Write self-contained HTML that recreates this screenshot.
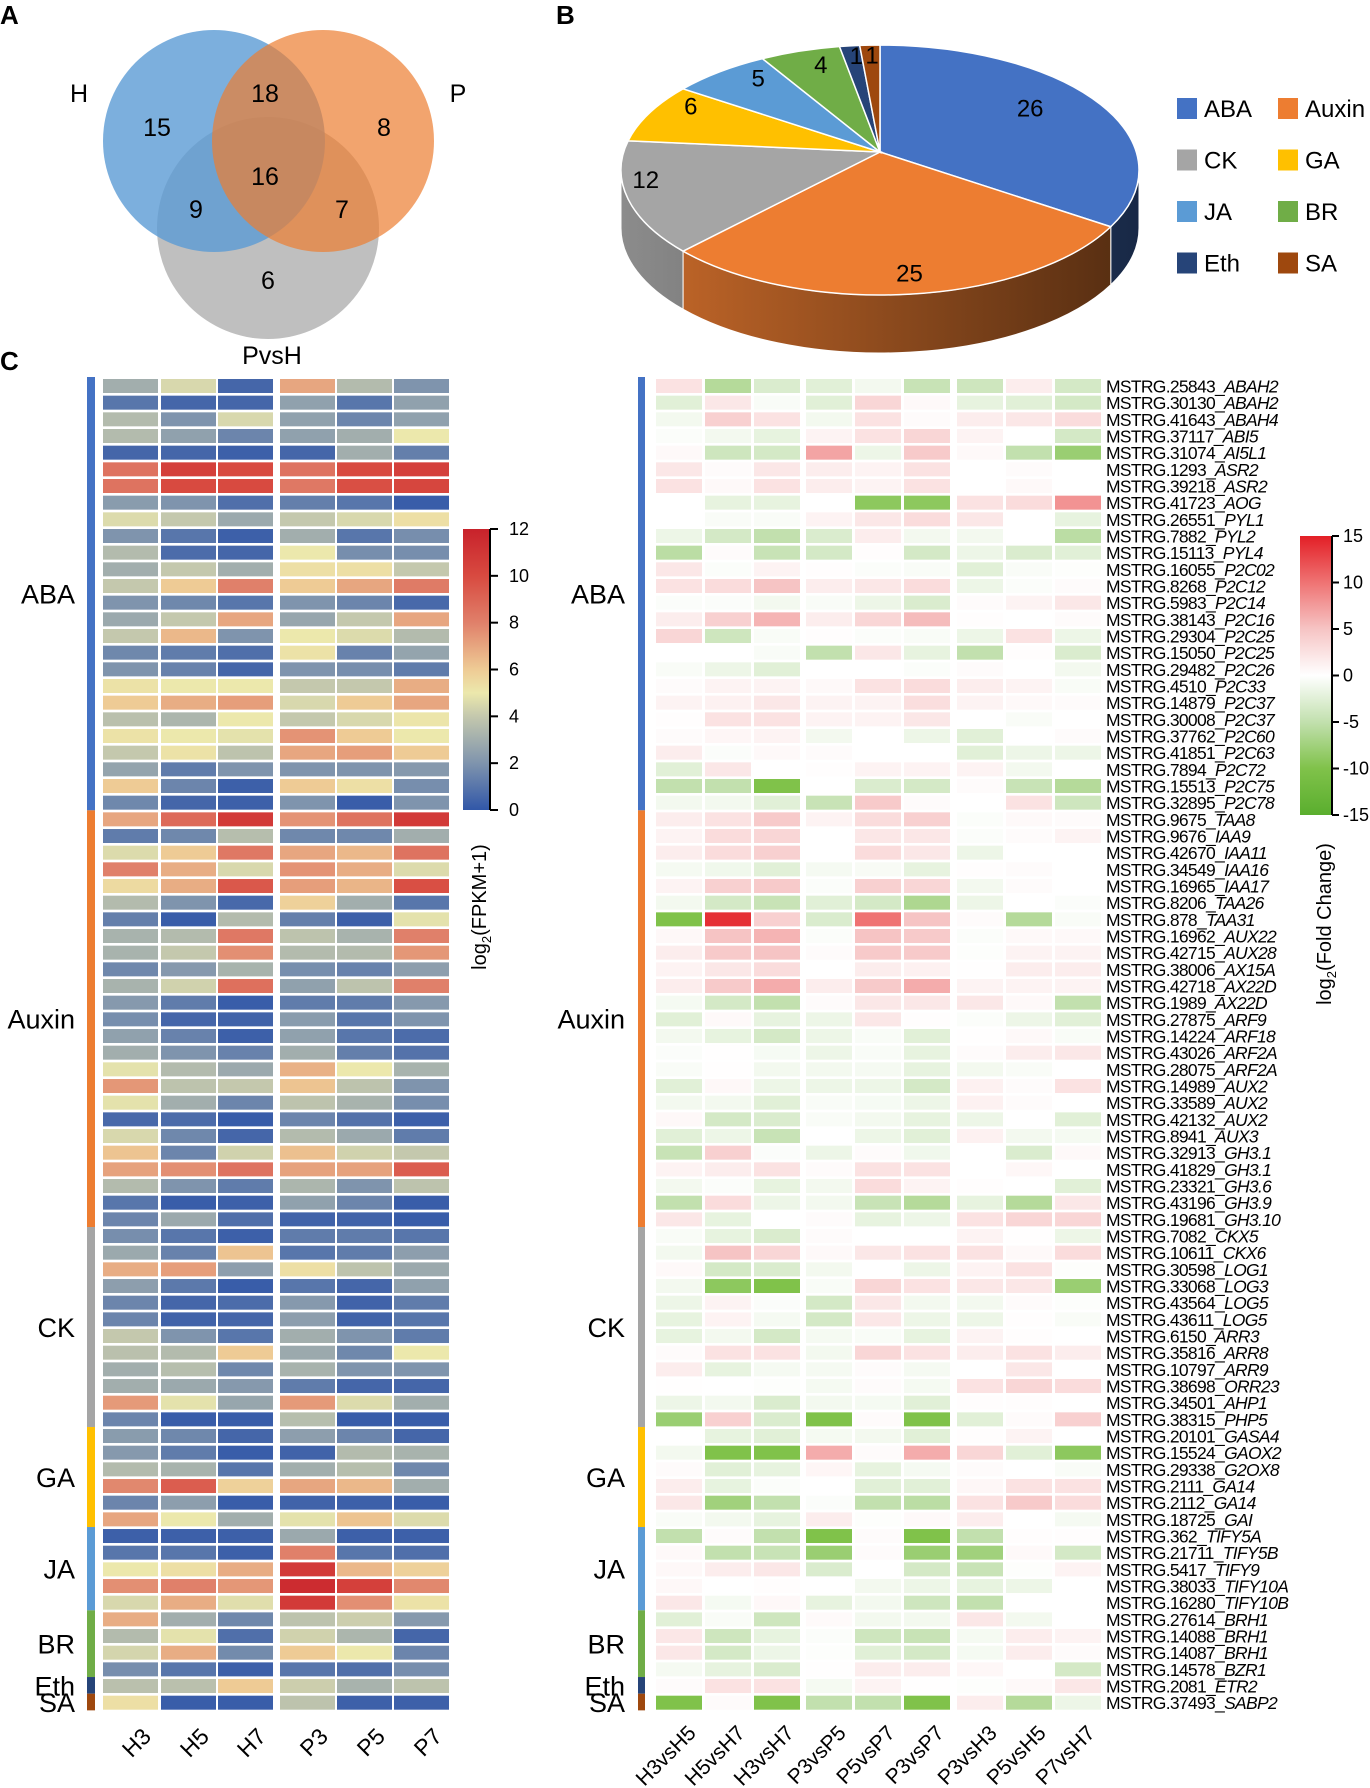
<!DOCTYPE html>
<html><head><meta charset="utf-8">
<style>
html,body{margin:0;padding:0;background:#fff;}
svg{display:block;font-family:"Liberation Sans",sans-serif;}
</style></head>
<body>
<svg id="fig" width="1370" height="1788" viewBox="0 0 1370 1788" xmlns="http://www.w3.org/2000/svg">
<defs>
<linearGradient id="gl" x1="0" y1="1" x2="0" y2="0">
<stop offset="0" stop-color="#3157a8"/><stop offset="0.1667" stop-color="#7f94ad"/><stop offset="0.3333" stop-color="#c4c8ad"/><stop offset="0.4167" stop-color="#ece8ac"/><stop offset="0.5" stop-color="#eecb95"/><stop offset="0.6667" stop-color="#e0806a"/><stop offset="0.8333" stop-color="#d84a40"/><stop offset="1" stop-color="#c8222b"/>
</linearGradient>
<linearGradient id="gr" x1="0" y1="1" x2="0" y2="0">
<stop offset="0" stop-color="#5aae2e"/><stop offset="0.1667" stop-color="#80c24a"/><stop offset="0.3333" stop-color="#c2e0ae"/><stop offset="0.5" stop-color="#ffffff"/><stop offset="0.6667" stop-color="#f6c4c4"/><stop offset="0.8333" stop-color="#ef7373"/><stop offset="1" stop-color="#e31f26"/>
</linearGradient>
</defs>

<text x="0" y="24" font-size="26" font-weight="bold">A</text>
<text x="556" y="24" font-size="26" font-weight="bold">B</text>
<text x="0" y="370" font-size="26" font-weight="bold">C</text>

<g>
<circle cx="268" cy="228" r="111" fill="#bfbfbf"/>
<circle cx="214" cy="141" r="111" fill="#5b9bd5" fill-opacity="0.8"/>
<circle cx="323" cy="141" r="111" fill="#ed7d31" fill-opacity="0.7"/>
<g font-size="25" text-anchor="middle">
<text x="79" y="102">H</text>
<text x="458" y="102">P</text>
<text x="272" y="364">PvsH</text>
<text x="157" y="136">15</text>
<text x="265" y="102">18</text>
<text x="384" y="136">8</text>
<text x="265" y="185">16</text>
<text x="196" y="218">9</text>
<text x="342" y="218">7</text>
<text x="268" y="289">6</text>
</g>
</g>

<g id="pie"></g>
<g id="legend"></g>
<g id="hl"></g>
<g id="hr"></g>

<g>
<rect x="463" y="529" width="27" height="281" fill="url(#gl)"/>
<line x1="490" y1="529" x2="490" y2="810" stroke="#000" stroke-width="2"/>
<g id="cbl"></g>
<text transform="translate(486,907) rotate(-90)" font-size="20" text-anchor="middle">log<tspan font-size="13" dy="5">2</tspan><tspan dy="-5">(FPKM+1)</tspan></text>
</g>
<g>
<rect x="1300" y="536" width="31" height="279" fill="url(#gr)"/>
<line x1="1332" y1="536" x2="1332" y2="815" stroke="#000" stroke-width="2"/>
<g id="cbr"></g>
<text transform="translate(1331,924) rotate(-90)" font-size="20" text-anchor="middle">log<tspan font-size="13" dy="5">2</tspan><tspan dy="-5">(Fold Change)</tspan></text>
</g>
</svg>

<script>
const pieCats = ["ABA","Auxin","CK","GA","JA","BR","Eth","SA"];
const pieVals = [26,25,12,6,5,4,1,1];
const groupNames = ["ABA","Auxin","CK","GA","JA","BR","Eth","SA"];
const groupCounts = [26,25,12,6,5,4,1,1];
const leftCols = ["H3","H5","H7","P3","P5","P7"];
const rightCols = ["H3vsH5","H5vsH7","H3vsH7","P3vsP5","P5vsP7","P3vsP7","P3vsH3","P5vsH5","P7vsH7"];
const fpkmTicks = [0,2,4,6,8,10,12];
const fcTicks = [-15,-10,-5,0,5,10,15];
const geneIds = ["MSTRG.25843","MSTRG.30130","MSTRG.41643","MSTRG.37117","MSTRG.31074","MSTRG.1293","MSTRG.39218","MSTRG.41723","MSTRG.26551","MSTRG.7882","MSTRG.15113","MSTRG.16055","MSTRG.8268","MSTRG.5983","MSTRG.38143","MSTRG.29304","MSTRG.15050","MSTRG.29482","MSTRG.4510","MSTRG.14879","MSTRG.30008","MSTRG.37762","MSTRG.41851","MSTRG.7894","MSTRG.15513","MSTRG.32895",
"MSTRG.9675","MSTRG.9676","MSTRG.42670","MSTRG.34549","MSTRG.16965","MSTRG.8206","MSTRG.878","MSTRG.16962","MSTRG.42715","MSTRG.38006","MSTRG.42718","MSTRG.1989","MSTRG.27875","MSTRG.14224","MSTRG.43026","MSTRG.28075","MSTRG.14989","MSTRG.33589","MSTRG.42132","MSTRG.8941","MSTRG.32913","MSTRG.41829","MSTRG.23321","MSTRG.43196","MSTRG.19681",
"MSTRG.7082","MSTRG.10611","MSTRG.30598","MSTRG.33068","MSTRG.43564","MSTRG.43611","MSTRG.6150","MSTRG.35816","MSTRG.10797","MSTRG.38698","MSTRG.34501","MSTRG.38315",
"MSTRG.20101","MSTRG.15524","MSTRG.29338","MSTRG.2111","MSTRG.2112","MSTRG.18725",
"MSTRG.362","MSTRG.21711","MSTRG.5417","MSTRG.38033","MSTRG.16280",
"MSTRG.27614","MSTRG.14088","MSTRG.14087","MSTRG.14578","MSTRG.2081","MSTRG.37493"];
const geneNames = ["ABAH2","ABAH2","ABAH4","ABI5","AI5L1","ASR2","ASR2","AOG","PYL1","PYL2","PYL4","P2C02","P2C12","P2C14","P2C16","P2C25","P2C25","P2C26","P2C33","P2C37","P2C37","P2C60","P2C63","P2C72","P2C75","P2C78",
"TAA8","IAA9","IAA11","IAA16","IAA17","TAA26","TAA31","AUX22","AUX28","AX15A","AX22D","AX22D","ARF9","ARF18","ARF2A","ARF2A","AUX2","AUX2","AUX2","AUX3","GH3.1","GH3.1","GH3.6","GH3.9","GH3.10",
"CKX5","CKX6","LOG1","LOG3","LOG5","LOG5","ARR3","ARR8","ARR9","ORR23","AHP1","PHP5",
"GASA4","GAOX2","G2OX8","GA14","GA14","GAI",
"TIFY5A","TIFY5B","TIFY9","TIFY10A","TIFY10B",
"BRH1","BRH1","BRH1","BZR1","ETR2","SABP2"];
const fpkm = [
[3,4.5,0.5,7,3.5,2],[1,0.5,0.5,2.5,1,2.5],[3.5,2,4.5,2.5,1.5,2.5],[3.5,2.5,1.5,2.5,3,5],[0.5,0.5,0.3,0.5,3,1.3],
[8.5,10.5,10,8.5,10,10.5],[8.5,10,10,8.3,9.8,10.2],[2.3,2,0.8,1.3,1,0.2],[4.6,4,2.8,4,4.5,5.3],[2,1,0.3,3,1,1.8],
[3.5,0.7,0.5,5,1.8,1.8],[3,4,3,5.3,5.3,4],[4,6,8,6,7,8.2],[2,1.6,1,2,1.5,0.6],[2.8,4,7,2.7,4,7],
[4,6.5,2,5,4.6,3.5],[1.6,1.2,0.8,5.2,1.4,2.6],[2,1.4,0.5,2,1.8,1.2],[5.2,5,5,4,4,6.8],[6,6.8,7.2,4.5,6,7],
[3.7,3.3,5,4,4.5,5.1],[5.2,5,4.8,7.5,6,5],[4,5.2,3.8,7,7.2,6],[2.6,1.2,2,2,2,2.2],[6,1.5,0.3,6,5.3,1.8],[1.6,0.5,0.3,2,0.2,2],
[7,8.8,10.8,7.5,8.5,10.8],[1.2,1.6,3.6,1.6,1.6,3],[4.6,6,8.3,7,6.5,8.5],[8,6.8,4.5,7.5,6.8,4.6],[5.5,6.8,9.5,7.2,6.6,9.8],
[3.5,2,0.6,5.8,3,1],[1.3,0.2,3.5,1.3,0.3,4.8],[3.2,3.5,8.3,3.8,3.2,8],[3.2,4,7.6,3.5,3.5,7.4],[1.6,2.2,3.2,1.8,1.4,2.4],
[3.2,4.3,8.6,2.5,3.8,8],[2.2,1.2,0.2,1.2,1.2,2.2],[1.8,0.5,0.4,2.3,1,2],[2.5,1.4,0.3,2.5,1,0.7],[3,2,1.4,3,1.3,0.9],
[4.8,3.5,2.8,6.7,5,3.2],[7.4,3.8,4,6.2,3.8,2],[4.8,3,1.5,3.8,3.2,1.8],[0.6,0.7,0.2,1.5,0.9,0.3],[4.5,1.6,0.5,3.5,2.8,1.2],
[6.2,1.5,4.3,6.3,4.3,4],[7.1,7.6,8.5,7.1,7.1,9.3],[3.5,2,1.2,3.3,2,3.8],[1,0.2,0.3,2.5,1.5,0.2],[1.5,2.8,0.8,0.4,0.4,0.2],
[1.8,1,0.3,1.2,1.2,1],[2.8,1.4,6.2,1,1.2,2.4],[6.8,7.2,2.4,5.3,3.8,2.8],[2.4,1.1,0.2,1,0.5,2.5],[1.5,0.5,0.7,2.2,0.4,1.2],
[1.5,0.4,0.5,2.4,0.4,1],[4,2,1,3,2,1.2],[3.7,3.5,6,2.8,1.6,5],[3,3.6,1.6,3.2,2,2],[3,2.8,2.2,1.2,0.5,0.5],
[7.3,4.8,2.7,7.3,4.6,3],[1.5,0.2,0.2,3.6,0.2,0.2],
[2.3,1.6,0.5,2.4,1.5,0.5],[2.2,1.2,0.2,0.4,3.5,3.2],[3.5,3.2,1,3,3.6,1.6],[7.8,9.3,5.8,7,6.5,3],[1.5,2.4,0.2,0.4,0.3,0.2],[7,5,3,4.8,6.2,4.6],
[0.3,0.3,0.3,2.8,0.3,0.3],[1,1,0.3,8,1,0.8],[5,5.3,6.8,10.8,6.5,5.8],[7.6,8,7.4,11.5,10.5,7.8],[4.5,6.8,4.7,10.8,7.6,5.2],
[6.8,3,1.6,3.8,4.2,2.2],[3.5,4.8,0.8,4.3,3.3,0.5],[4.4,6.8,1.7,6,5,1.5],[1.8,1,0.3,1,0.8,1.8],
[3.7,3.7,6,4.2,3.2,3.8],[5.3,0.2,0.2,3.8,0.3,0.3]];
const foldChange = [
[2.5,-6,-3,-2.5,-1,-4.5,-4,1.5,-3.5],[-2.5,2,-0.5,-2.5,3.5,0.5,-2,-2.5,-3.5],[-1,4,2.5,-1,2.5,0.3,1.5,2,3],
[-0.3,-1,-2,1,2.5,3.5,1,0,-3.5],[0.5,-4,-3.5,7,-1.5,4.5,0.5,-5,-8],[2,0.3,2,1.5,1,2.5,0,0.3,0],
[2.5,0.5,2.5,1.5,1,2.5,0,0.5,0],[0,-2,-2,0,-9,-9,2.5,3,8],[0,-0.5,-0.5,1,2,3,2,0,-2],
[-1.5,-3.5,-5,-3,1.5,-1,-1,0,-5.5],[-5.5,0.3,-4.5,-3.5,0.2,-3.5,-1.5,-3,-2.5],[2,-0.3,1,0.2,-0.3,-0.5,-2.5,-0.5,-0.2],
[2.5,3,5,1.5,2,3,-1.5,-0.3,0.3],[-0.3,-0.3,-1,-0.5,-1.5,-3,0.3,1,2],[1.5,4,6,1.5,3.5,5.5,0.2,0,0.3],
[3.5,-4,-0.5,0.2,-0.3,-0.5,-1.5,2.5,-1.5],[0,0,-0.5,-5,2,-2,-5,0.2,-3],[-0.5,-1.5,-2.5,0,0,-0.3,0.3,0,-1],
[0.3,1,1,0.5,2.5,3,1.5,1,-0.5],[1,1.2,2,1,1,2.8,1,0.5,0.3],[0.2,2.5,2.5,1,1,2,0,-0.5,0],
[0.3,0.8,1,-1,0,-1.5,-2.5,0,0.3],[1.5,-0.3,0.5,0.3,0,0,-2.5,-1.5,-1.5],[-2.5,2,0,0.2,1,1,1,-1,0],
[-5,-5,-10,0,-3,-3.5,0.3,-4.5,-6],[-1,-1,-2.5,-4.5,4.5,0.3,0,2.5,-4],
[1.5,2.5,4.5,1,3,4,-0.3,0.5,0.3],[1,3,3.5,0,2,2,-0.3,0.3,1],[1.5,3,4,0,3,2,-1.5,0,0],
[-0.8,-1.2,-2.5,-0.8,-0.6,-2,0.2,0.3,0],[1,4,4.5,-0.3,4,3.5,-1,0.3,0],[-1,-3.5,-4.5,-2.5,-3.5,-6.5,-1.5,0,-0.3],
[-10,14,4,-3,10,5,0.3,-6,-0.5],[0.6,5,6,-0.3,5,4.5,-0.3,0.5,0.5],[1.5,4.5,5,0.3,4.5,4.5,-0.2,1,1],
[1,2,3,0,1.5,1.2,0.1,1.5,1.5],[1.5,4.5,6.5,1.5,4.5,6.5,1,1,1],[-0.8,-3.5,-5,0.3,2,2,2,0.5,-5],
[-2.5,0.5,-2,-1.5,2,0.2,-0.3,-1.5,-2.5],[-1,-2,-3.5,-1.5,-0.5,-2.5,0.1,0.5,-0.5],[-0.3,0.1,-0.7,-1.5,-0.5,-2,0.3,1.5,2],
[-0.5,0.1,-1,-1,-0.8,-2,-1,-0.5,0],[-2.5,0.6,-1.5,-1.5,-1.5,-3.5,1.2,0.3,2.5],[-1,-1,-2.5,-0.5,-0.7,-1.5,1.2,0.3,0],
[0.6,-3.5,-3,-0.5,-1,-2,-1.5,0,-2.5],[-2.5,-1.5,-4.5,0,-1.5,-2.5,1.2,-1,-0.8],[-4.5,4,-0.3,-1.5,0.3,-1.2,0,-3,0.5],
[1,1.5,2.5,0.3,2.5,2.5,0,0.7,0],[-1,-0.3,-2,-1,3,1,0.2,0,-2.5],[-5,3,-1.5,-1,-4.5,-6,-2,-6,2],
[2,-2,0,0.3,-2,-1.5,2.5,3.5,3.5],
[-0.5,-2,-3,0.3,0,0,1,0.1,-1.5],[-1,5,3.5,0.5,2,2.5,2.5,0.5,3],[0.5,-3.5,-3,-1,0,-1.5,1,2.5,-0.2],
[-1,-9,-10,-0.5,3.5,2.5,2,2,-8],[-1.5,1,-0.3,-3.5,2,-1,-1,0.3,-0.2],[-2,1,-0.8,-3.5,2,-1.5,-1.5,0.2,-0.5],
[-2,-1,-3.5,-0.8,-0.5,-2,1,0.2,0],[0.3,2.5,2.5,-1,3.5,2.5,1.5,2.5,1.5],[1.5,-2,-0.8,-0.8,0.3,-0.8,0,2,0],
[0.1,0,-0.2,-0.8,0.3,-0.8,2.5,3.5,3],[-1.5,-1,-3,-1,-0.8,-2.5,0.2,0.2,0],[-8,4,-3,-10,0.3,-10,-2.5,0.3,4],
[0,-2,-2.5,-0.8,-1,-2.5,0.2,1,0],[-1,-10,-10,6.5,0.3,6.5,3.5,-2.5,-9],[0.3,-2.5,-2,0.8,-2,-0.8,0.3,0,-0.5],
[1.5,-2,-0.3,0,-2.5,-2.5,0.7,2.5,2.5],[2,-7.5,-5,-0.3,-5,-5.5,2.5,4.5,3],[-0.5,-1,-2,1.5,-0.2,0.5,1.5,0,-0.8],
[-5,0.3,-5,-10,0.3,-10,-5,0.2,0.2],[0.5,-5,-4.5,-8,0.3,-8,-7.5,0.5,-3.5],[0.6,1.5,2,-3,0,-3.5,-4.5,-0.2,1],
[0.6,0,0.2,0,-1,-1.5,-2,-1.5,0],[2,-0.8,0.6,-2,-1,-4,-5,0,0],
[-2.5,-0.5,-4,0.4,-1,-1,2,-1,0],[2,-4,-2,-0.3,-4,-4.5,-0.8,1.5,1],[2,-3.5,-1.5,-0.2,-2.5,-3.5,-0.8,1.5,0.3],
[-0.8,-2,-3,0.1,1.5,1.5,0.7,0,-3.5],
[0.3,2.5,2.5,-0.8,1,0.1,-0.2,0.5,2],
[-10,0.3,-10,-5,-5,-10,1.5,-6,-1.5]];

const NS = "http://www.w3.org/2000/svg";
function mk(tag, attrs, parent){ const e=document.createElementNS(NS,tag); for(const k in attrs) e.setAttribute(k,attrs[k]); parent.appendChild(e); return e; }
function hex(h){ return [parseInt(h.slice(1,3),16),parseInt(h.slice(3,5),16),parseInt(h.slice(5,7),16)]; }
function ramp(stops){ return v=>{ if(v<=stops[0][0]) return stops[0][1]; for(let i=1;i<stops.length;i++){ if(v<=stops[i][0]){ const t=(v-stops[i-1][0])/(stops[i][0]-stops[i-1][0]); const a=hex(stops[i-1][1]),b=hex(stops[i][1]); return "rgb("+a.map((c,j)=>Math.round(c+(b[j]-c)*t)).join(",")+")"; } } return stops[stops.length-1][1]; }; }
const colL = ramp([[0,"#3157a8"],[2,"#7f94ad"],[4,"#c4c8ad"],[5,"#ece8ac"],[6,"#eecb95"],[8,"#e0806a"],[10,"#d84a40"],[12,"#c8222b"]]);
const colR = ramp([[-15,"#5aae2e"],[-10,"#80c24a"],[-5,"#c2e0ae"],[0,"#ffffff"],[5,"#f6c4c4"],[10,"#ef7373"],[15,"#e31f26"]]);
const groupColors = ["#4472c4","#ed7d31","#a5a5a5","#ffc000","#5b9bd5","#70ad47","#264478","#9e480e"];

const rowTop0 = 379, rowPitch = 16.667, cellH = 14;
const yRow = i => rowTop0 + i*rowPitch;
const leftX = [103,161,218,280,337,394], leftW = 55;
const rightX = [656,705,754,806,855,904,957,1006,1055], rightW = 46;
const xL = j => leftX[j];
const xR = j => rightX[j];
const yFpkm = v => 810 - (v/12)*281;
const yFc = v => 815 - ((v+15)/30)*279;

const hl = document.getElementById("hl"), hr = document.getElementById("hr");
fpkm.forEach((row,i)=>row.forEach((v,j)=>{
  const r = mk("rect",{x:xL(j),y:yRow(i),width:leftW,height:cellH,fill:colL(v)},hl);
  
  
}));
foldChange.forEach((row,i)=>row.forEach((v,j)=>{
  const r = mk("rect",{x:xR(j),y:yRow(i),width:rightW,height:cellH,fill:colR(v)},hr);
  
  
}));
let start = 0;
groupNames.forEach((g,k)=>{
  const n = groupCounts[k];
  const y0 = yRow(start)-2, h = n*rowPitch;
  const b1 = mk("rect",{x:87,y:y0,width:8,height:h,fill:groupColors[k]},hl);
  
  
  const b2 = mk("rect",{x:638,y:y0,width:7,height:h,fill:groupColors[k]},hr);
  
  
  const cy = y0 + h/2 + 10;
  [75,625].forEach(x=>{
    const t = mk("text",{x:x,y:cy,"font-size":27,"text-anchor":"end"},hl);
    t.textContent = g;
    
    
  });
  start += n;
});
geneIds.forEach((id,i)=>{
  const t = mk("text",{x:1106,y:yRow(i)+13.5,"font-size":17.5,"letter-spacing":"-0.7"},hr);
  t.textContent = id+"_";
  const s = mk("tspan",{"font-style":"italic"},t);
  s.textContent = geneNames[i];
  
  
});
leftCols.forEach((c,j)=>{
  const x = xL(j)+leftW/2+10, y = 1726;
  const t = mk("text",{transform:"translate("+x+","+y+") rotate(-45)","font-size":23,"text-anchor":"end","dominant-baseline":"hanging"},hl);
  t.textContent = c;
  
  
});
rightCols.forEach((c,j)=>{
  const x = xR(j)+rightW/2+8, y = 1724;
  const t = mk("text",{transform:"translate("+x+","+y+") rotate(-45)","font-size":21,"text-anchor":"end","dominant-baseline":"hanging"},hr);
  t.textContent = c;
  
  
});
const cbl = document.getElementById("cbl"), cbr = document.getElementById("cbr");
fpkmTicks.forEach(v=>{
  const y = yFpkm(v);
  mk("line",{x1:490,y1:y,x2:498,y2:y,stroke:"#000","stroke-width":2},cbl);
  const t = mk("text",{x:509,y:y+6,"font-size":18},cbl);
  t.textContent = v;
  
  
});
fcTicks.forEach(v=>{
  const y = yFc(v);
  mk("line",{x1:1332,y1:y,x2:1339,y2:y,stroke:"#000","stroke-width":2},cbr);
  const t = mk("text",{x:1343,y:y+6,"font-size":18},cbr);
  t.textContent = v;
  
  
});

const pie = document.getElementById("pie");
const cx=880, cy=170, rx=259, ry=125, depth=58, apexY=152;
const total = pieVals.reduce((a,b)=>a+b,0);
const P = (th,dy)=>[cx+rx*Math.sin(th), cy-ry*Math.cos(th)+(dy||0)];
function shade(h,f){ return "rgb("+hex(h).map(c=>Math.round(c*f)).join(",")+")"; }
const defs = document.querySelector("defs");
let acc = 0;
const angles = pieVals.map(v=>{ const a0=acc/total*2*Math.PI; acc+=v; return [a0, acc/total*2*Math.PI]; });
angles.forEach(([a0,a1],k)=>{
  const s = Math.max(a0,Math.PI/2), e = Math.min(a1,3*Math.PI/2);
  if(e<=s) return;
  const gid = "ps"+k;
  const g = mk("linearGradient",{id:gid,gradientUnits:"userSpaceOnUse",x1:cx+rx,y1:0,x2:cx-rx,y2:0},defs);
  mk("stop",{offset:0,"stop-color":shade(groupColors[k],0.35)},g);
  mk("stop",{offset:1,"stop-color":shade(groupColors[k],0.85)},g);
  const p1=P(s),p2=P(e),p3=P(e,depth),p4=P(s,depth);
  const d = "M"+p1+" A"+rx+","+ry+" 0 0 1 "+p2+" L"+p3+" A"+rx+","+ry+" 0 0 0 "+p4+" Z";
  const side = mk("path",{d:d,fill:"url(#"+gid+")",stroke:"#fff","stroke-width":1},pie);
  
  
});
angles.forEach(([a0,a1],k)=>{
  const p0=P(a0),p1=P(a1);
  const large = (a1-a0)>Math.PI?1:0;
  const d = "M"+cx+","+apexY+" L"+p0+" A"+rx+","+ry+" 0 "+large+" 1 "+p1+" Z";
  const sl = mk("path",{d:d,fill:groupColors[k],stroke:"#fff","stroke-width":1.5},pie);
  
  
});
const labelR = [0.68,0.97,0.93,0.82,0.76,0.74,0.78,0.78];
angles.forEach(([a0,a1],k)=>{
  const m=(a0+a1)/2, f=labelR[k];
  const x = cx+rx*f*Math.sin(m), y = apexY-ry*f*Math.cos(m)+9;
  const t = mk("text",{x:x,y:y,"font-size":24,"text-anchor":"middle"},pie);
  t.textContent = pieVals[k];
  
  
});
const lg = document.getElementById("legend");
pieCats.forEach((c,k)=>{
  const col = k%2, row = Math.floor(k/2);
  const x = col===0?1177:1278, y = 98+row*51.5;
  const r = mk("rect",{x:x,y:y,width:20,height:21,fill:groupColors[k]},lg);
  
  
  const t = mk("text",{x:x+27,y:y+19,"font-size":24},lg);
  t.textContent = c;
  
  
});
</script>
</body></html>
